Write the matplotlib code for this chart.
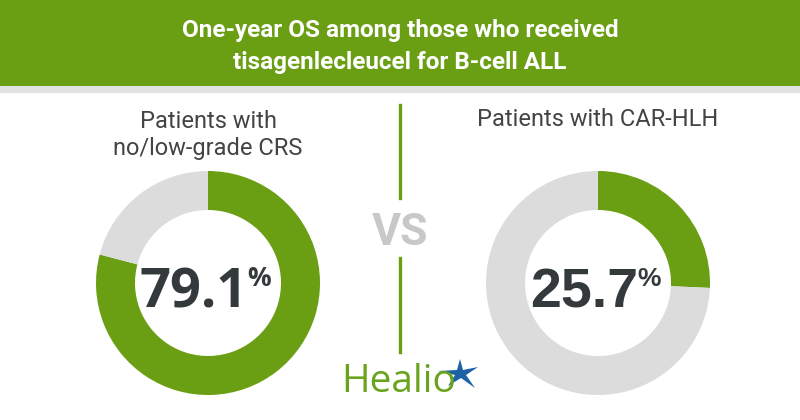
import matplotlib
matplotlib.use("Agg")
import matplotlib.pyplot as plt
from matplotlib.patches import Rectangle, Polygon
from matplotlib.lines import Line2D

# ---- data ----
title_lines = ["One-year OS among those who received", "tisagenlecleucel for B-cell ALL"]
group_labels = ["Patients with\nno/low-grade CRS", "Patients with CAR-HLH"]
os_values = [79.1, 25.7]

GREEN = "#6a9e13"
GRAY = "#dcdcdc"
DARK = "#343a3c"
W, H = 800, 420

fig = plt.figure(figsize=(W / 100, H / 100), dpi=100)
fig.patch.set_facecolor("white")

def fx(x):
    return x / W

def fy(y):
    return 1 - y / H

# header
fig.patches.append(Rectangle((0, fy(86)), 1, 86 / H, transform=fig.transFigure,
                             facecolor=GREEN, edgecolor="none", zorder=0))
fig.patches.append(Rectangle((0, fy(93)), 1, 7 / H, transform=fig.transFigure,
                             facecolor="#e2e2e2", edgecolor="none", zorder=0))
title_font = ["Roboto", "DejaVu Sans"]
fig.text(0.5, fy(31), title_lines[0], ha="center", va="center", color="white",
         fontsize=17.5, fontweight="bold", family=title_font)
fig.text(0.5, fy(62), title_lines[1], ha="center", va="center", color="white",
         fontsize=17.5, fontweight="bold", family=title_font)

# donuts
centers = [(208, 283), (598, 283)]
R_out, R_in = 112, 73
num_fonts = ["Open Sans", "Liberation Sans"]
num_sizes = [39, 40]
num_right = [248, 638]
for i, (val, (cx, cy)) in enumerate(zip(os_values, centers)):
    ax = fig.add_axes([fx(cx - R_out), fy(cy + R_out), 2 * R_out / W, 2 * R_out / H])
    ax.pie([val, 100 - val], colors=[GREEN, GRAY], startangle=90, counterclock=False,
           radius=1, wedgeprops=dict(width=(R_out - R_in) / R_out, edgecolor="none"))
    ax.set_xlim(-1, 1)
    ax.set_ylim(-1, 1)
    ax.set_aspect("equal")
    ax.axis("off")
    fig.text(fx(num_right[i]), fy(307), f"{val:.1f}", ha="right", va="baseline",
             color=DARK, fontsize=num_sizes[i], fontweight="bold", family=num_fonts[i])
    fig.text(fx(num_right[i] - 1), fy(286), "%", ha="left", va="baseline",
             color=DARK, fontsize=19, fontweight="bold", family=num_fonts[i])

# group labels
fig.text(fx(208), fy(135), group_labels[0], ha="center", va="center", color="#444444",
         fontsize=17, family="Roboto", linespacing=1.25)
fig.text(fx(598), fy(120), group_labels[1], ha="center", va="center", color="#444444",
         fontsize=17, family="Roboto")

# divider + VS
fig.add_artist(Line2D([fx(400), fx(400)], [fy(105), fy(198)], transform=fig.transFigure,
                      color=GREEN, lw=2.4))
fig.add_artist(Line2D([fx(400), fx(400)], [fy(258), fy(352)], transform=fig.transFigure,
                      color=GREEN, lw=2.4))
fig.text(fx(400), fy(245), "VS", ha="center", va="baseline", color="#c8c8c8",
         fontsize=32, fontweight="bold", family="Roboto")

# Healio logo
fig.text(fx(341), fy(392), "Healio", ha="left", va="baseline", color="#6aa41e",
         fontsize=28, family="Open Sans")
star = [(460, 359), (463, 370), (478, 367), (466, 375), (475, 388), (461, 378),
        (448, 386), (455, 375), (438, 371), (457, 370)]
fig.patches.append(Polygon([(fx(x), fy(y)) for x, y in star], closed=True,
                           transform=fig.transFigure, facecolor="#1d62a5", edgecolor="none"))

fig.savefig("out.png", dpi=100, facecolor="white")
